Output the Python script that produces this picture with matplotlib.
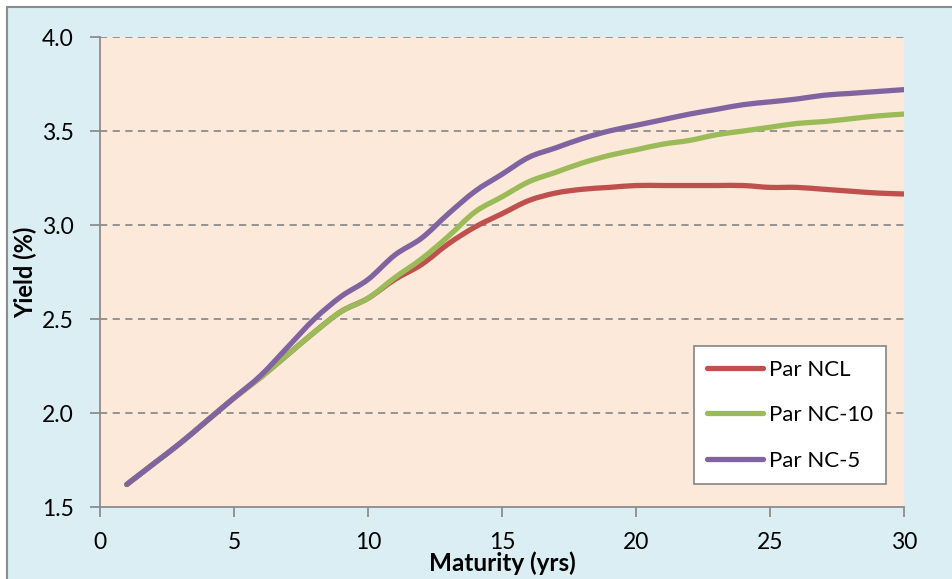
import matplotlib
matplotlib.use("Agg")
import matplotlib.pyplot as plt
from matplotlib.patches import Rectangle, PathPatch
from matplotlib.path import Path
from matplotlib.lines import Line2D

plt.rcParams['font.family'] = ['Lato', 'DejaVu Sans']

years = list(range(1, 31))
par_ncl = [1.62, 1.73, 1.84, 1.96, 2.08, 2.19, 2.31, 2.43, 2.54, 2.61,
           2.71, 2.79, 2.90, 2.99, 3.06, 3.13, 3.17, 3.19, 3.20, 3.21,
           3.21, 3.21, 3.21, 3.21, 3.20, 3.20, 3.19, 3.18, 3.17, 3.165]
par_nc10 = [1.62, 1.73, 1.84, 1.96, 2.08, 2.19, 2.31, 2.43, 2.54, 2.61,
            2.72, 2.82, 2.94, 3.07, 3.15, 3.23, 3.28, 3.33, 3.37, 3.40,
            3.43, 3.45, 3.48, 3.50, 3.52, 3.54, 3.55, 3.565, 3.58, 3.59]
par_nc5 = [1.62, 1.73, 1.84, 1.96, 2.08, 2.20, 2.35, 2.50, 2.62, 2.71,
           2.84, 2.93, 3.06, 3.18, 3.27, 3.36, 3.41, 3.46, 3.50, 3.53,
           3.56, 3.59, 3.615, 3.64, 3.655, 3.67, 3.69, 3.70, 3.71, 3.72]
series = [("Par NCL", par_ncl, "#C0504D"),
          ("Par NC-10", par_nc10, "#9BBB59"),
          ("Par NC-5", par_nc5, "#8064A2")]


def smooth_path(xs, ys):
    # excel style smoothed line: catmull-rom segments as cubic beziers
    pts = list(zip(xs, ys))
    verts = [pts[0]]
    codes = [Path.MOVETO]
    n = len(pts)
    for i in range(n - 1):
        p0 = pts[max(i - 1, 0)]
        p1 = pts[i]
        p2 = pts[i + 1]
        p3 = pts[min(i + 2, n - 1)]
        c1 = (p1[0] + (p2[0] - p0[0]) / 6, p1[1] + (p2[1] - p0[1]) / 6)
        c2 = (p2[0] - (p3[0] - p1[0]) / 6, p2[1] - (p3[1] - p1[1]) / 6)
        verts += [c1, c2, p2]
        codes += [Path.CURVE4] * 3
    return Path(verts, codes)


W, H = 952, 579
fig = plt.figure(figsize=(W/100, H/100), dpi=100, facecolor="white")
bg = Rectangle((7/W, -0.01), 1.0, 1 - 7/H + 0.01, transform=fig.transFigure,
               facecolor="#DAEEF3", edgecolor="#8C8C8C", linewidth=1.5, zorder=-10)
fig.patches.append(bg)

ax = fig.add_axes([100/W, 1 - 507/H, 804/W, 470/H])
ax.set_facecolor("#FDE9D9")
handles = []
for name, vals, col in series:
    ax.add_patch(PathPatch(smooth_path(years, vals), fill=False, edgecolor=col, lw=3.8,
                           capstyle="round", joinstyle="round", zorder=3))
    handles.append(Line2D([], [], color=col, lw=3.8, solid_capstyle="round", label=name))

ax.set_xlim(0, 30)
ax.set_ylim(1.5, 4.0)
ax.set_xticks(range(0, 31, 5))
ax.set_yticks([1.5, 2.0, 2.5, 3.0, 3.5, 4.0])
ax.set_yticklabels(["1.5", "2.0", "2.5", "3.0", "3.5", "4.0"])
for y in [2.0, 2.5, 3.0, 3.5, 4.0]:
    ax.axhline(y, color="#8C8C8C", lw=1.3, ls=(0, (4, 3)), zorder=1)

for s in ["top", "right"]:
    ax.spines[s].set_visible(False)
for s in ["left", "bottom"]:
    ax.spines[s].set_color("#8C8C8C")
    ax.spines[s].set_linewidth(1.3)
ax.tick_params(axis="both", colors="#8C8C8C", length=7, width=1.3, labelsize=16.5, labelcolor="black")
ax.tick_params(axis="x", pad=11)
ax.tick_params(axis="y", pad=12)

ax.set_xlabel("Maturity (yrs)", fontsize=17.5, fontweight="bold", labelpad=-1)
ax.set_ylabel("Yield (%)", fontsize=17, fontweight="bold", labelpad=3)

leg = ax.legend(handles=handles, loc="lower right", bbox_to_anchor=(0.9776, 0.049),
                borderaxespad=0, fontsize=16, frameon=True, fancybox=False,
                handlelength=2.5, handletextpad=0.25, labelspacing=1.15, borderpad=0.6)
leg.get_frame().set_edgecolor("#8C8C8C")
leg.get_frame().set_linewidth(1.3)
leg.get_frame().set_facecolor("white")
leg.get_frame().set_alpha(1)

fig.savefig("out.png", dpi=100)
